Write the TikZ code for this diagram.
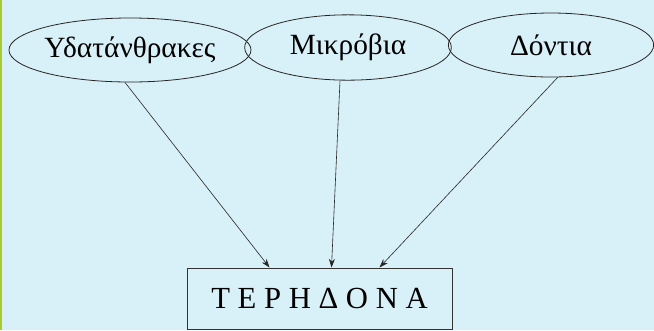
\documentclass[tikz,border=0pt]{standalone}
\usepackage{fontspec}
\setmainfont{Liberation Serif}
\usetikzlibrary{arrows.meta}
\usetikzlibrary{shapes.geometric}
\definecolor{bgblue}{HTML}{D8F0F7}
\definecolor{edgegreen}{HTML}{A8CC30}
\tikzset{
 cause/.style={draw=black!85, ellipse, inner sep=0pt, line width=0.6pt, font=\fontsize{22}{24}\selectfont},
 effect/.style={draw=black!80, rectangle, inner sep=0pt, line width=0.5pt, font=\fontsize{23}{25}\selectfont},
 link/.style={black!85, line width=0.45pt, -{Stealth[length=6.5pt, width=4.5pt]}}
}
\begin{document}
\begin{tikzpicture} [x=0.75pt, y=-0.75pt]
\fill[bgblue] (0,0) rectangle (654,330);
\fill[edgegreen] (0,0) rectangle (2,330);
\useasboundingbox (0,0) rectangle (654,330);
\node[cause, minimum width=172pt, minimum height=48pt] (carbs) at (130,50) {Υδατάνθρακες};
\node[cause, minimum width=155pt, minimum height=49pt] (microbes) at (348,47.5) {Μικρόβια};
\node[cause, minimum width=154pt, minimum height=48pt] (teeth) at (551,45) {Δόντια};
\node[effect, minimum width=199pt, minimum height=46pt] (caries) at (319.5,298.5) {Τ Ε Ρ Η Δ Ο Ν Α};
\draw[link] ([xshift=-3.75pt]carbs.south) -- ([xshift=-37.5pt]caries.north);
\draw[link] ([xshift=-6pt]microbes.south) -- ([xshift=9pt]caries.north);
\draw[link] ([xshift=5pt]teeth.south) -- ([xshift=45pt]caries.north);
\end{tikzpicture}
\end{document}
